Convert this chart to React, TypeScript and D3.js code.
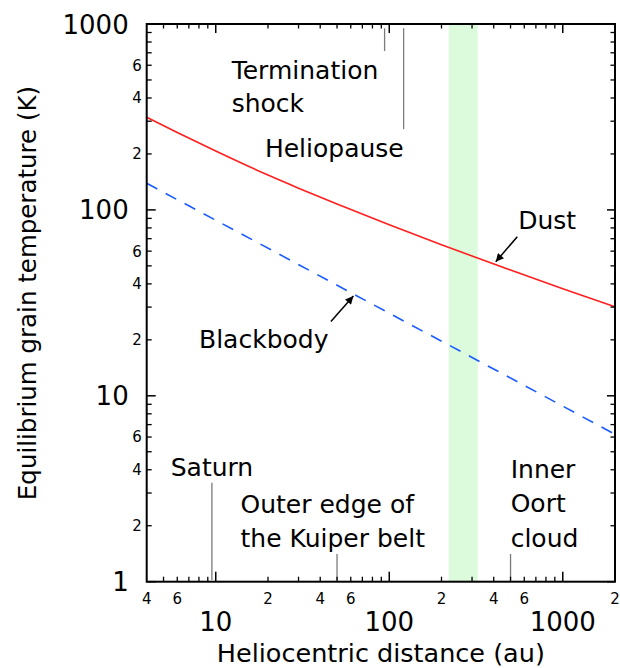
import React from "react";
import * as d3 from "d3";

// ---- data ----
const dustX = [4, 6, 10, 20, 30, 50, 100, 200, 300, 500, 1000, 2000];
const dustT = [315, 261.1, 207.3, 153.9, 130.9, 107.6, 83.3, 65.0, 56.5, 47.5, 37.7, 30.1];
const bbX = [4, 10, 100, 1000, 2000];
const bbT = [139, 88, 27.8, 8.8, 6.2];
const bandRange = [220, 323];

const xMajor = [10, 100, 1000];
const xMinorTicks = [5, 6, 7, 8, 9, 20, 30, 40, 50, 60, 70, 80, 90, 200, 300, 400, 500, 600, 700, 800, 900];
const xMinorLabelVals = [4, 6, 20, 40, 60, 200, 400, 600, 2000];
const xMinorLabelText = ["4", "6", "2", "4", "6", "2", "4", "6", "2"];
const yMajor = [1, 10, 100, 1000];
const yMinorTicks = [2, 3, 4, 5, 6, 7, 8, 9, 20, 30, 40, 50, 60, 70, 80, 90, 200, 300, 400, 500, 600, 700, 800, 900];
const yMinorLabelVals = [2, 4, 6, 20, 40, 60, 200, 400, 600];
const yMinorLabelText = ["2", "4", "6", "2", "4", "6", "2", "4", "6"];

// marker lines: [x, yFrom, yTo]
const markerLines: [number, number, number][] = [
  [94, 949, 716],
  [121, 949, 272],
  [9.5, 3.41, 1.02],
  [50, 1.41, 1.02],
  [500, 1.41, 1.02],
];

// text annotations: [x, y (first baseline), lines]
const annotations: { x: number; y: number; lines: string[]; dy: number }[] = [
  { x: 12.36, y: 504, lines: ["Termination", "shock"], dy: 32.4 },
  { x: 19.2, y: 191.9, lines: ["Heliopause"], dy: 34 },
  { x: 554, y: 78.6, lines: ["Dust"], dy: 34 },
  { x: 8.01, y: 18.0, lines: ["Blackbody"], dy: 34 },
  { x: 5.5, y: 3.7, lines: ["Saturn"], dy: 34 },
  { x: 13.9, y: 2.35, lines: ["Outer edge of", "the Kuiper belt"], dy: 34 },
  { x: 501, y: 3.6, lines: ["Inner", "Oort", "cloud"], dy: 34.2 },
];

// arrows: [x1,y1] -> [x2,y2] (tip)
const arrows: [number, number, number, number][] = [
  [547, 71.8, 411, 52.6],
  [46.1, 25.1, 62.1, 34.4],
];

const W = 620;
const H = 668;
const L = 146.7, R = 615, T = 24, B = 581.7;
const FONT = "'DejaVu Sans', Verdana, sans-serif";

export default function App() {
  const x = d3.scaleLog().domain([4, 2000]).range([L, R]);
  const y = d3.scaleLog().domain([1, 1000]).range([B, T]);

  const line = d3
    .line<[number, number]>()
    .x((d) => x(d[0]))
    .y((d) => y(d[1]))
    .curve(d3.curveMonotoneX);

  const dustPath = line(dustX.map((v, i) => [v, dustT[i]]) as [number, number][]) || "";
  const bbPath = line(bbX.map((v, i) => [v, bbT[i]]) as [number, number][]) || "";

  return (
    <svg
      width={W}
      height={H}
      style={{ position: "absolute", left: 0, top: 0, display: "block", background: "#fff" }}
    >
      <defs>
        <marker
          id="ah"
          viewBox="0 0 10 10"
          refX="10"
          refY="5"
          markerWidth="11"
          markerHeight="8"
          markerUnits="userSpaceOnUse"
          orient="auto"
        >
          <path d="M0,0 L10,5 L0,10 z" fill="#000" />
        </marker>
      </defs>
      {/* band */}
      <rect
        x={x(bandRange[0])}
        y={T}
        width={x(bandRange[1]) - x(bandRange[0])}
        height={B - T}
        fill="#dcfadc"
      />
      {/* curves */}
      <path d={dustPath} fill="none" stroke="#ff1f1f" strokeWidth={1.6} />
      <path d={bbPath} fill="none" stroke="#1a5cff" strokeWidth={1.6} strokeDasharray="12,9.5" />

      {/* marker lines */}
      {markerLines.map((m, i) => (
        <line key={i} x1={x(m[0])} x2={x(m[0])} y1={y(m[1])} y2={y(m[2])} stroke="#7a7a7a" strokeWidth={1.3} />
      ))}

      {/* frame */}
      <rect x={L} y={T} width={R - L} height={B - T} fill="none" stroke="#000" strokeWidth={2} />

      {/* x ticks */}
      {xMajor.map((v) => (
        <g key={"xm" + v}>
          <line x1={x(v)} x2={x(v)} y1={B} y2={B - 10} stroke="#000" strokeWidth={1.5} />
          <line x1={x(v)} x2={x(v)} y1={T} y2={T + 9} stroke="#000" strokeWidth={1.5} />
        </g>
      ))}
      {xMinorTicks.map((v) => (
        <g key={"xn" + v}>
          <line x1={x(v)} x2={x(v)} y1={B} y2={B - 5} stroke="#000" strokeWidth={1.3} />
          <line x1={x(v)} x2={x(v)} y1={T} y2={T + 4.5} stroke="#000" strokeWidth={1.3} />
        </g>
      ))}
      {/* y ticks */}
      {yMajor.map((v) => (
        <g key={"ym" + v}>
          <line x1={L} x2={L + 9} y1={y(v)} y2={y(v)} stroke="#000" strokeWidth={1.5} />
          <line x1={R} x2={R - 8} y1={y(v)} y2={y(v)} stroke="#000" strokeWidth={1.5} />
        </g>
      ))}
      {yMinorTicks.map((v) => (
        <g key={"yn" + v}>
          <line x1={L} x2={L + 5} y1={y(v)} y2={y(v)} stroke="#000" strokeWidth={1.3} />
          <line x1={R} x2={R - 4.5} y1={y(v)} y2={y(v)} stroke="#000" strokeWidth={1.3} />
        </g>
      ))}

      {/* tick labels */}
      <g fontFamily={FONT} fill="#000">
        {xMajor.map((v) => (
          <text key={"xl" + v} x={x(v)} y={B + 49} fontSize={26} textAnchor="middle">
            {String(v)}
          </text>
        ))}
        {xMinorLabelVals.map((v, i) => (
          <text key={"xnl" + i} x={x(v)} y={B + 22.3} fontSize={15} textAnchor="middle">
            {xMinorLabelText[i]}
          </text>
        ))}
        {yMajor.map((v) => (
          <text key={"yl" + v} x={L - 18} y={y(v) + 9.5} fontSize={26} textAnchor="end">
            {String(v)}
          </text>
        ))}
        {yMinorLabelVals.map((v, i) => (
          <text key={"ynl" + i} x={L - 5} y={y(v) + 5.4} fontSize={15} textAnchor="end">
            {yMinorLabelText[i]}
          </text>
        ))}
        {/* axis titles */}
        <text x={(L + R) / 2} y={661.5} fontSize={25.5} textAnchor="middle">
          Heliocentric distance (au)
        </text>
        <text
          transform={`translate(36,${293}) rotate(-90)`}
          fontSize={24.5}
          textAnchor="middle"
        >
          Equilibrium grain temperature (K)
        </text>
      </g>

      {/* annotations */}
      <g fontFamily={FONT} fill="#000" fontSize={25}>
        {annotations.map((a, i) => (
          <text key={"an" + i} x={x(a.x)} y={y(a.y)}>
            {a.lines.map((ln, j) => (
              <tspan key={j} x={x(a.x)} dy={j === 0 ? 0 : a.dy}>
                {ln}
              </tspan>
            ))}
          </text>
        ))}
      </g>

      {/* arrows */}
      {arrows.map((a, i) => (
        <line
          key={"ar" + i}
          x1={x(a[0])}
          y1={y(a[1])}
          x2={x(a[2])}
          y2={y(a[3])}
          stroke="#000"
          strokeWidth={1.5}
          markerEnd="url(#ah)"
        />
      ))}
    </svg>
  );
}
